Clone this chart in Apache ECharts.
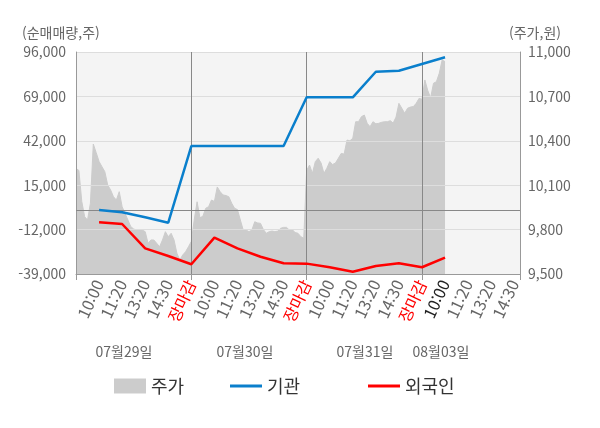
<!DOCTYPE html>
<html lang="ko">
<head>
<meta charset="UTF-8">
<title>순매매량 / 주가</title>
<script src="https://cdn.jsdelivr.net/npm/echarts/dist/echarts.min.js"></script>
<style>
  html, body { margin: 0; padding: 0; background: #fff; }
  #chart { width: 600px; height: 428px; }
</style>
</head>
<body>
<div id="chart"></div>
<script>
// 날짜 / 시간 라벨
var dayLabels = ['07월29일', '07월30일', '07월31일', '08월03일'];
var timeLabels = ['10:00', '11:20', '13:20', '14:30', '장마감'];

// 주가 (원) - 분 단위 흐름, 29일 09:00 부터 03일 10:00 까지
var priceValues = [
  10213, 10200, 9990, 9887, 9865, 9978, 10378, 10320, 10260, 10225,
  10191, 10101, 10068, 10022, 10000, 10056, 9955, 9910, 9865, 9820,
  9804, 9797, 9797, 9797, 9786, 9707, 9730, 9730, 9707, 9684,
  9730, 9786, 9752, 9775, 9730, 9640, 9595, 9628, 9650, 9684,
  9720,
  9865, 9988, 9880, 9890, 9944, 9955, 10000, 9990, 10088, 10056,
  10034, 10030, 10022, 9978, 9944, 9935, 9865, 9797, 9797, 9786,
  9797, 9853, 9845, 9842, 9800, 9775, 9786, 9790, 9786, 9790,
  9809, 9815, 9815, 9797, 9800, 9780, 9775, 9752, 9741,
  10200, 10236, 10180, 10259, 10282, 10250, 10180, 10214, 10259, 10240,
  10250, 10282, 10315, 10310, 10405, 10400, 10417, 10529, 10529, 10563,
  10574, 10518, 10495, 10529, 10515, 10518, 10525, 10529, 10529, 10536,
  10520, 10560, 10653, 10620, 10586, 10620, 10628, 10631, 10653, 10687,
  10680,
  10811, 10740, 10690, 10789, 10799, 10856, 10946, 10935
];

// 누적 순매매량 (주) - 각 시간 라벨 시점
var instValues = [-100, -1500, -4500, -7800, 38800, 38800, 38800, 38800, 38800,
  68450, 68450, 68450, 84000, 84600, 88700, 92800];
var foreignValues = [-7560, -8600, -23400, -28050, -33100, -16900, -23400, -28500, -32500,
  -32700, -34900, -37600, -34100, -32500, -34900, -29000];

var stepsPerSlot = 8;      // 라벨 한 칸 당 점 개수
var totalSteps = 154;      // 마지막 날은 조금 더 넓다

var categories = [];
for (var i = 0; i <= totalSteps; i++) categories.push('p' + i);

function toPairs(vals) {
  var out = [];
  for (var k = 0; k < vals.length; k++) out.push([(k + 1) * stepsPerSlot, vals[k]]);
  return out;
}

var font = '"Noto Sans CJK KR", "Noto Sans", sans-serif';
var chart = echarts.init(document.getElementById('chart'));

var legendText = { fontSize: 18, color: '#333', fontFamily: font };

var option = {
  animation: false,
  textStyle: { fontFamily: font },
  grid: {
    left: 76, right: 80, top: 52, bottom: 154,
    show: true, backgroundColor: '#f4f4f4', borderWidth: 0,
    outerBoundsMode: 'none'
  },
  legend: [
    { data: [{ name: '주가', icon: 'rect' }], left: 114, top: 377, padding: 0,
      itemWidth: 32, itemHeight: 15, itemGap: 0, textStyle: legendText },
    { data: [{ name: '기관', icon: 'rect' }], left: 230, top: 377, padding: 0,
      itemWidth: 32, itemHeight: 3, textStyle: legendText },
    { data: [{ name: '외국인', icon: 'rect' }], left: 368, top: 377, padding: 0,
      itemWidth: 32, itemHeight: 3, textStyle: legendText }
  ],
  xAxis: {
    type: 'category',
    data: categories,
    boundaryGap: false,
    z: 3,
    axisLine: { onZero: false, lineStyle: { color: '#999' } },
    axisTick: {
      show: true, length: 6, lineStyle: { color: '#999' },
      interval: function (idx) { return idx % 40 === 0 || idx === totalSteps; }
    },
    splitLine: {
      show: true, lineStyle: { color: '#888', width: 1 },
      interval: function (idx) { return idx > 0 && idx % 40 === 0 && idx < totalSteps; }
    },
    axisLabel: {
      rotate: 65,
      margin: 7,
      fontSize: 16,
      color: '#666',
      fontFamily: font,
      interval: function (idx) { return idx > 0 && idx % stepsPerSlot === 0 && idx <= 152; },
      formatter: function (val, idx) {
        var pos = (idx / stepsPerSlot - 1) % 5;
        var t = timeLabels[pos];
        if (pos === 4) return '{r|' + t + '}';
        if (idx === 128) return '{b|' + t + '}';
        return t;
      },
      rich: {
        r: { color: '#ff0000', fontSize: 16, fontFamily: font },
        b: { color: '#222', fontSize: 16, fontFamily: font }
      }
    }
  },
  yAxis: [
    {
      type: 'value', min: -39000, max: 96000, interval: 27000, z: 3,
      axisLine: { show: true, lineStyle: { color: '#999' } },
      axisTick: { show: false },
      splitLine: { show: true, lineStyle: { color: '#ddd' } },
      axisLabel: { fontSize: 14, color: '#666', margin: 10, fontFamily: font }
    },
    {
      type: 'value', min: 9500, max: 11000, interval: 300, z: 3,
      axisLine: { show: true, lineStyle: { color: '#999' } },
      axisTick: { show: false },
      splitLine: { show: false },
      axisLabel: { fontSize: 14, color: '#666', margin: 8, fontFamily: font }
    }
  ],
  graphic: [
    { type: 'text', x: 22, y: 33, style: { text: '(순매매량,주)', fill: '#666', font: '14px ' + font, align: 'left', verticalAlign: 'middle' } },
    { type: 'text', x: 509, y: 33, style: { text: '(주가,원)', fill: '#666', font: '14px ' + font, align: 'left', verticalAlign: 'middle' } },
    { type: 'text', x: 124, y: 352, style: { text: dayLabels[0], fill: '#666', font: '14px ' + font, align: 'center', verticalAlign: 'middle' } },
    { type: 'text', x: 245, y: 352, style: { text: dayLabels[1], fill: '#666', font: '14px ' + font, align: 'center', verticalAlign: 'middle' } },
    { type: 'text', x: 365, y: 352, style: { text: dayLabels[2], fill: '#666', font: '14px ' + font, align: 'center', verticalAlign: 'middle' } },
    { type: 'text', x: 441, y: 352, style: { text: dayLabels[3], fill: '#666', font: '14px ' + font, align: 'center', verticalAlign: 'middle' } }
  ],
  series: [
    {
      name: '주가', type: 'line', yAxisIndex: 1, z: 1,
      data: priceValues, symbol: 'none',
      itemStyle: { color: '#cccccc' },
      lineStyle: { color: '#cccccc', width: 1 },
      areaStyle: { color: '#cccccc', opacity: 1 }
    },
    {
      name: '기관', type: 'line', yAxisIndex: 0, z: 5,
      data: toPairs(instValues), symbol: 'none',
      itemStyle: { color: '#0a7fcc' },
      lineStyle: { color: '#0a7fcc', width: 2.5 }
    },
    {
      name: '외국인', type: 'line', yAxisIndex: 0, z: 5,
      data: toPairs(foreignValues), symbol: 'none',
      itemStyle: { color: '#ff0000' },
      lineStyle: { color: '#ff0000', width: 2.5 },
      markLine: {
        silent: true, symbol: ['none', 'none'], label: { show: false },
        lineStyle: { color: '#888', type: 'solid', width: 1 },
        data: [{ yAxis: 0 }]
      }
    }
  ]
};
chart.setOption(option);
</script>
</body>
</html>
